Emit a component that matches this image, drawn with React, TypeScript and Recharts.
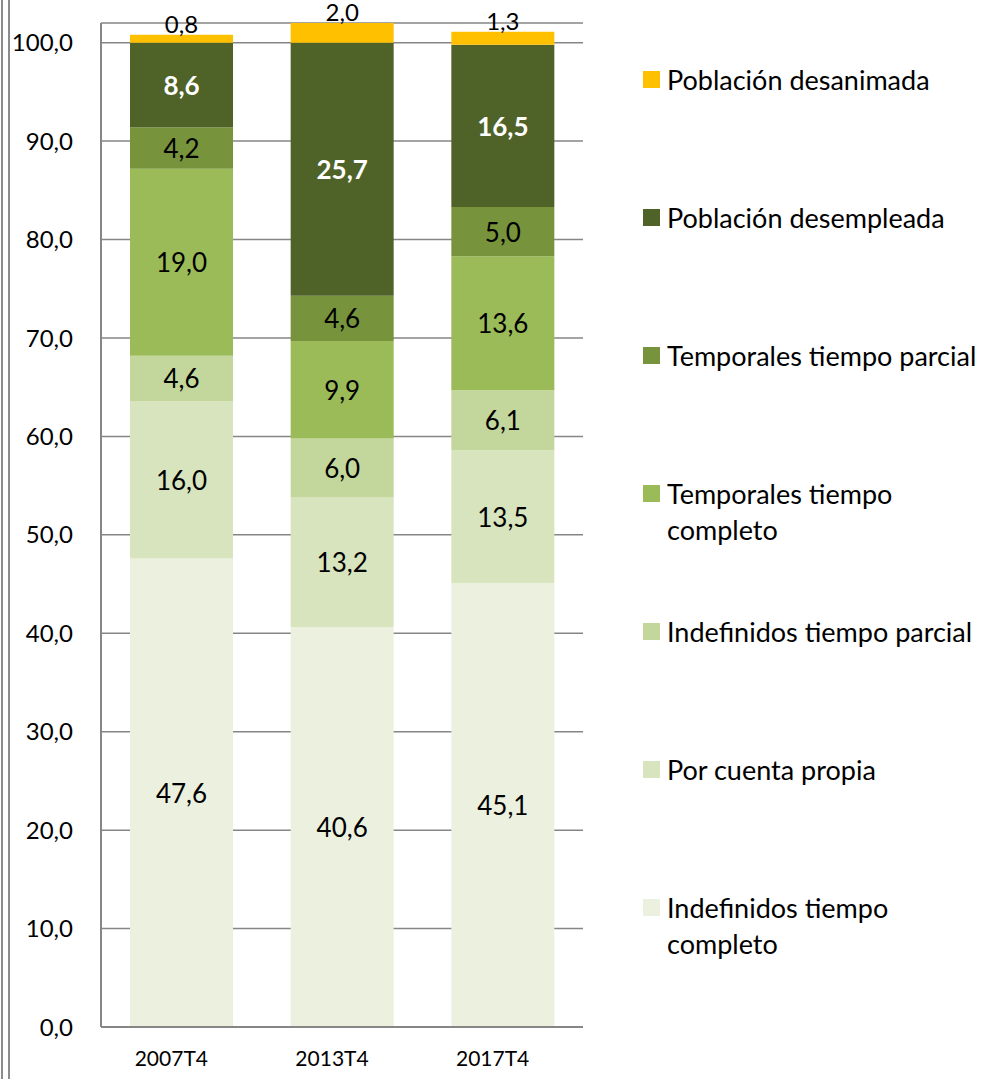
import React from 'react';
import { BarChart, Bar, XAxis, YAxis, CartesianGrid, Legend, LabelList } from 'recharts';

const periods = ['2007T4', '2013T4', '2017T4'];

const indefCompleto = [47.6, 40.6, 45.1];
const cuentaPropia = [16.0, 13.2, 13.5];
const indefParcial = [4.6, 6.0, 6.1];
const tempCompleto = [19.0, 9.9, 13.6];
const tempParcial = [4.2, 4.6, 5.0];
const desempleada = [8.6, 25.7, 16.5];
const desanimada = [0.8, 2.0, 1.3];

const yTicks = [0, 10, 20, 30, 40, 50, 60, 70, 80, 90, 100];

const series = [
  { key: 'indefCompleto', name: 'Indefinidos tiempo completo', values: indefCompleto, color: '#EBF1DE' },
  { key: 'cuentaPropia', name: 'Por cuenta propia', values: cuentaPropia, color: '#D7E4BD' },
  { key: 'indefParcial', name: 'Indefinidos tiempo parcial', values: indefParcial, color: '#C3D69B' },
  { key: 'tempCompleto', name: 'Temporales tiempo completo', values: tempCompleto, color: '#9BBB59' },
  { key: 'tempParcial', name: 'Temporales tiempo parcial', values: tempParcial, color: '#77933C' },
  { key: 'desempleada', name: 'Población desempleada', values: desempleada, color: '#4F6228' },
  { key: 'desanimada', name: 'Población desanimada', values: desanimada, color: '#FFC000' },
];

const data = periods.map((p, i) => {
  const row: Record<string, string | number> = { period: p };
  series.forEach((s) => {
    row[s.key] = s.values[i];
  });
  return row;
});

const FONT = 'Lato, "Noto Sans", sans-serif';
const fmt = (v: number) => v.toFixed(1).replace('.', ',');

const CenterLabel = (props: any) => {
  const { x, y, width, height, value, textColor, bold } = props;
  return (
    <text
      x={x + width / 2}
      y={y + height / 2}
      textAnchor="middle"
      dominantBaseline="central"
      fontFamily={FONT}
      fontSize={26}
      fontWeight={bold ? 700 : 400}
      fill={textColor}
    >
      {fmt(Number(value))}
    </text>
  );
};

const TopLabel = (props: any) => {
  const { x, y, width, value } = props;
  return (
    <text x={x + width / 2} y={y - 2} textAnchor="middle" fontFamily={FONT} fontSize={24} fill="#000">
      {fmt(Number(value))}
    </text>
  );
};

const legendLines: Record<string, string[]> = {
  'Temporales tiempo completo': ['Temporales tiempo', 'completo'],
  'Indefinidos tiempo completo': ['Indefinidos tiempo', 'completo'],
};

const LegendBox = () => {
  const items = [...series].reverse();
  return (
    <div style={{ position: 'relative', width: 344, height: 1000, fontFamily: FONT }}>
      {items.map((s, i) => {
        const lines = legendLines[s.name] || [s.name];
        return (
          <div key={s.key} style={{ position: 'absolute', left: 0, top: i * 138 }}>
            <div style={{ position: 'absolute', left: 0, top: 9, width: 17, height: 17, background: s.color }} />
            <div style={{ position: 'absolute', left: 24, top: 0, fontSize: 27, lineHeight: '36px', color: '#000', whiteSpace: 'nowrap' }}>
              {lines.map((l) => (
                <div key={l}>{l}</div>
              ))}
            </div>
          </div>
        );
      })}
    </div>
  );
};

export default function App() {
  return (
    <div style={{ position: 'absolute', left: 0, top: 0, width: 987, height: 1079, background: '#fff' }}>
      <div style={{ position: 'absolute', left: 1, top: 0, width: 2, height: 1079, background: '#8C8C8C' }} />
      <div style={{ position: 'absolute', left: 8, top: 0, width: 2, height: 1079, background: '#8C8C8C' }} />
      <BarChart
        width={987}
        height={1079}
        data={data}
        margin={{ top: 23, right: 404, bottom: 0, left: 0 }}
        barCategoryGap={29}
      >
        <CartesianGrid vertical={false} stroke="#868686" strokeWidth={1.5} />
        <XAxis
          dataKey="period"
          height={52}
          tickLine={false}
          axisLine={{ stroke: '#868686', strokeWidth: 2 }}
          tick={{ fontFamily: FONT, fontSize: 21, fill: '#000', dx: -10 }}
          tickMargin={18}
        />
        <YAxis
          width={101}
          domain={[0, 102]}
          ticks={yTicks}
          allowDataOverflow
          tickLine={false}
          axisLine={{ stroke: '#868686', strokeWidth: 2 }}
          tick={{ fontFamily: FONT, fontSize: 24, fill: '#000' }}
          tickFormatter={(v: number) => fmt(v)}
          tickMargin={22}
        />
        <Legend
          layout="vertical"
          align="center"
          verticalAlign="middle"
          content={<LegendBox />}
          wrapperStyle={{ left: 643, top: 62, width: 344, height: 1000 }}
        />
        {series.map((s) => (
          <Bar key={s.key} dataKey={s.key} name={s.name} stackId="a" fill={s.color} isAnimationActive={false}>
            {s.key === 'desanimada' ? (
              <LabelList dataKey={s.key} content={<TopLabel />} />
            ) : (
              <LabelList
                dataKey={s.key}
                content={<CenterLabel textColor={s.key === 'desempleada' ? '#fff' : '#000'} bold={s.key === 'desempleada'} />}
              />
            )}
          </Bar>
        ))}
      </BarChart>
    </div>
  );
}
